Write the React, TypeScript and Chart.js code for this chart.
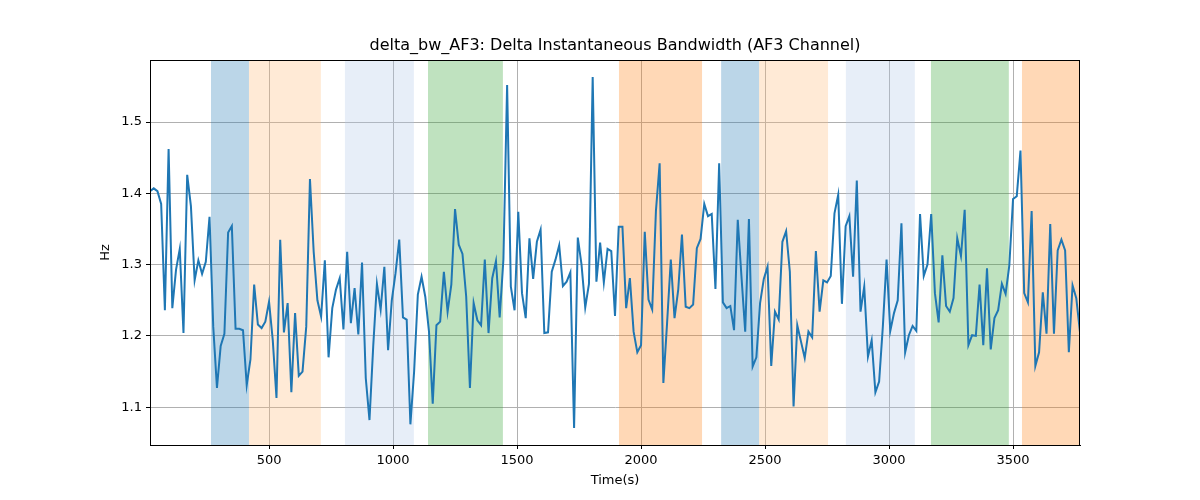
import React, { useEffect, useRef } from "react";
import { Chart, registerables } from "chart.js";
Chart.register(...registerables);

const startTime = 20;
const stepTime = 15;
const values: number[] = [
  1.403,1.407,1.403,1.385,1.236,1.462,1.239,1.293,1.322,1.204,1.426,1.382,1.278,1.306,1.287,1.304,1.367,1.213,1.127,1.186,1.203,1.345,1.354,1.210,1.210,1.208,1.131,1.167,1.272,1.216,1.211,1.220,1.248,1.194,1.113,1.335,1.205,1.246,1.121,1.232,1.144,1.150,1.213,1.420,1.318,1.250,1.227,1.306,1.170,1.239,1.265,1.281,1.209,1.318,1.218,1.267,1.202,1.303,1.141,1.082,1.185,1.273,1.237,1.297,1.180,
  1.250,1.288,1.335,1.226,1.223,1.076,1.150,1.258,1.283,1.255,1.206,1.105,1.215,1.220,1.290,1.234,1.272,1.378,1.328,1.315,1.255,1.127,1.246,1.222,1.215,1.307,1.204,1.281,1.305,1.226,1.307,1.552,1.269,1.236,1.374,1.260,1.225,1.337,1.280,1.332,1.349,1.204,1.205,1.290,1.307,1.327,1.270,1.276,1.289,1.071,1.338,1.300,1.240,1.273,1.563,1.276,1.331,1.275,1.322,1.319,1.228,1.353,1.353,
  1.239,1.281,1.206,1.177,1.187,1.346,1.251,1.237,1.375,1.442,1.134,1.218,1.307,1.225,1.265,1.342,1.241,1.239,1.244,1.323,1.336,1.385,1.368,1.371,1.266,1.442,1.247,1.239,1.242,1.208,1.363,1.283,1.206,1.364,1.157,1.170,1.246,1.280,1.297,1.158,1.234,1.223,1.332,1.347,1.290,1.101,1.215,1.192,1.169,1.206,1.198,1.319,1.234,1.278,1.275,1.284,1.372,1.398,1.245,1.354,1.368,1.283,1.418,1.234,
  1.269,1.171,1.194,1.121,1.136,1.213,1.307,1.207,1.232,1.250,1.358,1.177,1.201,1.214,1.207,1.371,1.284,1.300,1.371,1.260,1.219,1.313,1.242,1.234,1.253,1.337,1.312,1.377,1.187,1.201,1.200,1.272,1.187,1.295,1.181,1.225,1.236,1.273,1.259,1.299,1.392,1.396,1.460,1.260,1.247,1.375,1.158,1.177,1.261,1.203,1.357,1.203,1.320,1.335,1.320,1.177,1.271,1.253,1.205,
];
const times: number[] = values.map((_, i) => startTime + i * stepTime);

const bandStarts = [266, 419, 806, 1141, 1911, 2323, 2476, 2826, 3169, 3536];
const bandEnds = [419, 709, 1084, 1443, 2246, 2476, 2754, 3104, 3483, 3770];
const bandColors = [
  "rgba(31,119,180,0.3)", "rgba(255,187,120,0.3)", "rgba(174,199,232,0.3)", "rgba(44,160,44,0.3)", "rgba(255,127,14,0.3)",
  "rgba(31,119,180,0.3)", "rgba(255,187,120,0.3)", "rgba(174,199,232,0.3)", "rgba(44,160,44,0.3)", "rgba(255,127,14,0.3)",
];
const xTicks = [500, 1000, 1500, 2000, 2500, 3000, 3500];
const yTicks = [1.1, 1.2, 1.3, 1.4, 1.5];
const titleText = "delta_bw_AF3: Delta Instantaneous Bandwidth (AF3 Channel)";
const xTitle = "Time(s)";
const yTitle = "Hz";

const bandPlugin = {
  id: "bands",
  beforeDatasetsDraw(chart: any) {
    const { ctx, chartArea, scales } = chart;
    ctx.save();
    ctx.beginPath();
    ctx.rect(chartArea.left, chartArea.top, chartArea.right - chartArea.left, chartArea.bottom - chartArea.top);
    ctx.clip();
    bandStarts.forEach((s, i) => {
      const x0 = scales.x.getPixelForValue(s);
      const x1 = scales.x.getPixelForValue(bandEnds[i]);
      ctx.fillStyle = bandColors[i];
      ctx.fillRect(x0, chartArea.top, x1 - x0, chartArea.bottom - chartArea.top);
    });
    ctx.restore();
  },
  afterDraw(chart: any) {
    const { ctx, chartArea: a } = chart;
    ctx.save();
    ctx.strokeStyle = "#000";
    ctx.lineWidth = 1;
    ctx.strokeRect(a.left + 0.5, a.top + 0.5, a.right - a.left - 1, a.bottom - a.top);
    ctx.fillStyle = "#000";
    ctx.textAlign = "center";
    ctx.textBaseline = "middle";
    ctx.font = "16px 'DejaVu Sans'";
    ctx.fillText(titleText, (a.left + a.right) / 2, 46);
    ctx.font = "13px 'DejaVu Sans'";
    ctx.fillText(xTitle, (a.left + a.right) / 2, 481);
    ctx.translate(106, (a.top + a.bottom) / 2);
    ctx.rotate(-Math.PI / 2);
    ctx.fillText(yTitle, 0, 0);
    ctx.restore();
  },
};

export default function App() {
  const ref = useRef<HTMLCanvasElement>(null);
  useEffect(() => {
    document.body.style.margin = "0";
    const font = { family: "DejaVu Sans", size: 13 };
    const chart = new Chart(ref.current!, {
      type: "line",
      data: {
        datasets: [{
          data: times.map((t, i) => ({ x: t, y: values[i] })),
          borderColor: "#1f77b4",
          borderWidth: 2,
          pointRadius: 0,
          tension: 0,
        }],
      },
      options: {
        animation: false,
        responsive: false,
        layout: { padding: { left: 0, right: 120, top: 60, bottom: 0 } },
        plugins: {
          legend: { display: false },
          tooltip: { enabled: false },
        },
        scales: {
          x: {
            type: "linear",
            min: 20,
            max: 3770,
            afterBuildTicks: (s: any) => { s.ticks = xTicks.map((v) => ({ value: v })); },
            afterFit: (s: any) => { s.height = 55; },
            ticks: { color: "#000", font, maxRotation: 0, padding: 4, callback: (v: any) => String(v) },
            grid: { color: "#b0b0b0", tickColor: "#000", tickLength: 4 },
            border: { color: "#000" },
          },
          y: {
            min: 1.047,
            max: 1.587,
            afterBuildTicks: (s: any) => { s.ticks = yTicks.map((v) => ({ value: v })); },
            afterFit: (s: any) => { s.width = 150; },
            ticks: { color: "#000", font, padding: 4, callback: (v: any) => Number(v).toFixed(1) },
            grid: { color: "#b0b0b0", tickColor: "#000", tickLength: 4 },
            border: { color: "#000" },
          },
        },
      },
      plugins: [bandPlugin],
    });
    return () => chart.destroy();
  }, []);
  return <canvas ref={ref} width={1200} height={500} style={{ display: "block" }} />;
}
